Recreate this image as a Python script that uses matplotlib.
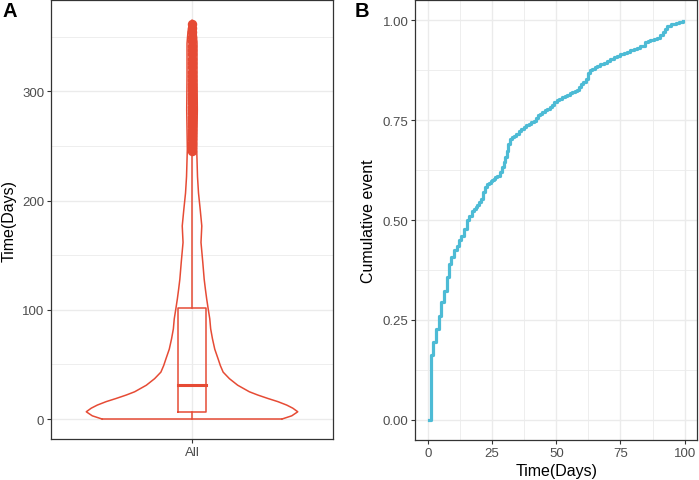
import matplotlib
matplotlib.use("Agg")
import matplotlib.pyplot as plt
from matplotlib.ticker import MultipleLocator, FormatStrFormatter

plt.rcParams['font.family'] = ['Liberation Sans', 'DejaVu Sans']

# panel A: violin outline (time, relative half width)
violin_time = [0, 3, 6.7, 10, 12.8, 16, 18.9, 22, 25, 31, 37, 43, 49, 55, 64,
               73.5, 82.6, 91.8, 101, 110, 119, 128, 143.5, 161.7, 176.8, 192,
               207, 222, 247, 283, 314, 344, 355, 362, 365]
violin_width = [90, 100, 106, 101, 95, 86, 76, 66, 57.5, 45.8, 37.5, 31.2, 28.4,
                26.2, 22.8, 20.5, 18.7, 17.8, 16.2, 14.7, 13.4, 12.2, 10.8, 9.0,
                9.8, 8.2, 6.5, 5.5, 4.7, 5.3, 5.0, 5.0, 4.0, 2.5, 0]
box_q1, box_median, box_q3 = 6.7, 31, 101.8
whisker_low, whisker_high = 0, 244
outliers = [245, 248, 251, 253, 256, 259, 262, 265, 268, 271, 274, 277, 280,
            283, 286, 289, 292, 295, 298, 301, 304, 307, 310, 314, 318, 322,
            326, 330, 334, 338, 342, 346, 350, 354, 358, 362]
group = "All"

# panel B: cumulative event step curve
event_days = [0.4, 1.05, 2.1, 3.1, 4.2, 5.2, 6.2, 7.3, 8.2, 9.1, 10.1, 11.2,
              12.1, 13.0, 14.0, 15.1, 16.0, 17.3, 18.0, 18.6, 19.2, 19.8, 20.8,
              21.6, 22.2, 23.1, 23.7, 24.4, 25.0, 25.7, 26.3, 27.0, 28.0, 28.9,
              29.6, 30.2, 30.6, 31.2, 31.9, 32.7, 33.5, 34.4, 35.4, 36.4, 37.4,
              38.3, 39.3, 40.2, 41.2, 42.0, 42.8, 43.7, 44.5, 45.5, 46.5, 47.4,
              48.4, 49.2, 50.1, 51.2, 52.3, 53.2, 54.2, 55.2, 56.2, 57.1, 58.1,
              58.9, 59.7, 60.5, 61.4, 62.3, 63.1, 64.0, 65.0, 65.9, 67.2, 68.5,
              69.8, 71.1, 72.4, 73.7, 75.0, 76.3, 77.6, 78.9, 80.2, 81.5, 82.5,
              83.4, 84.7, 85.7, 86.7, 88.0, 89.3, 90.3, 91.6, 92.4, 93.2, 94.5,
              95.7, 96.7, 97.7, 98.6, 99.4]
cum_event = [0.0, 0.162, 0.194, 0.227, 0.261, 0.296, 0.323, 0.357, 0.39, 0.407,
             0.424, 0.436, 0.449, 0.461, 0.478, 0.499, 0.511, 0.524, 0.528,
             0.532, 0.538, 0.545, 0.553, 0.57, 0.582, 0.591, 0.594, 0.597, 0.600,
             0.603, 0.607, 0.611, 0.62, 0.633, 0.645, 0.658, 0.674, 0.690,
             0.703, 0.707, 0.710, 0.716, 0.722, 0.728, 0.733, 0.737, 0.741,
             0.745, 0.749, 0.755, 0.762, 0.766, 0.770, 0.775, 0.779, 0.784,
             0.789, 0.795, 0.800, 0.804, 0.808, 0.811, 0.814, 0.818, 0.821,
             0.824, 0.827, 0.834, 0.841, 0.847, 0.854, 0.869, 0.875, 0.879,
             0.884, 0.886, 0.890, 0.894, 0.899, 0.904, 0.908, 0.912, 0.915,
             0.918, 0.922, 0.925, 0.929, 0.932, 0.935, 0.937, 0.946, 0.949,
             0.952, 0.954, 0.956, 0.964, 0.972, 0.979, 0.987, 0.990, 0.992,
             0.994, 0.996, 0.997, 0.998]

red = "#E64B35"
blue = "#4DBBD5"
grid_col = "#EBEBEB"
tick_col = "#4D4D4D"


def style_axes(ax):
    ax.set_facecolor("white")
    for s in ax.spines.values():
        s.set_color("#333333")
        s.set_linewidth(0.9)
    ax.grid(True, which="major", color=grid_col, linewidth=1.0, zorder=0)
    ax.grid(True, which="minor", color=grid_col, linewidth=0.6, zorder=0)
    ax.set_axisbelow(True)
    ax.tick_params(which="major", direction="out", length=3, width=0.8,
                   color="#333333", labelsize=9.5, labelcolor=tick_col, pad=2)
    ax.tick_params(which="minor", length=0)


fig = plt.figure(figsize=(6.99, 4.81), dpi=100)

# ---- panel A
axA = fig.add_axes([0.073, 0.0852, 0.4034, 0.9117])
style_axes(axA)
scale = 0.45 / max(violin_width)
xs_right = [1 + w * scale for w in violin_width]
xs_left = [1 - w * scale for w in violin_width]
axA.plot(xs_right, violin_time, color=red, lw=1.1, zorder=3)
axA.plot(xs_left, violin_time, color=red, lw=1.1, zorder=3)
axA.plot([xs_left[0], xs_right[0]], [0, 0], color=red, lw=1.1, zorder=3)

bw = 0.06
axA.plot([1, 1], [whisker_low, box_q1], color=red, lw=1.1, zorder=3)
axA.plot([1, 1], [box_q3, whisker_high], color=red, lw=1.1, zorder=3)
axA.plot([1 - bw, 1 + bw, 1 + bw, 1 - bw, 1 - bw],
         [box_q1, box_q1, box_q3, box_q3, box_q1], color=red, lw=1.1, zorder=3)
axA.plot([1 - bw, 1 + bw], [box_median, box_median], color=red, lw=2.2, zorder=3)
axA.plot([1] * len(outliers), outliers, "o", color=red, ms=5.8, mec=red, zorder=4)

axA.set_xlim(0.4, 1.6)
axA.set_ylim(-18.25, 383.25)
axA.set_xticks([1])
axA.set_xticklabels([group])
axA.yaxis.set_major_locator(MultipleLocator(100))
axA.yaxis.set_minor_locator(MultipleLocator(50))
axA.set_ylabel("Time(Days)", fontsize=11.5, labelpad=4)

# ---- panel B
axB = fig.add_axes([0.5941, 0.0838, 0.4035, 0.9131])
style_axes(axB)
axB.step(event_days, cum_event, where="post", color=blue, lw=2.3, zorder=3)
axB.set_xlim(-4.95, 104.95)
axB.set_ylim(-0.05, 1.05)
axB.xaxis.set_major_locator(MultipleLocator(25))
axB.xaxis.set_minor_locator(MultipleLocator(12.5))
axB.yaxis.set_major_locator(MultipleLocator(0.25))
axB.yaxis.set_minor_locator(MultipleLocator(0.125))
axB.yaxis.set_major_formatter(FormatStrFormatter("%.2f"))
axB.set_xlabel("Time(Days)", fontsize=11.5, labelpad=3)
axB.set_ylabel("Cumulative event", fontsize=11.5, labelpad=5)

fig.text(0.004, 0.996, "A", fontsize=14.5, fontweight="bold", va="top", ha="left")
fig.text(0.508, 0.996, "B", fontsize=14.5, fontweight="bold", va="top", ha="left")

fig.savefig("out.png", dpi=100)
